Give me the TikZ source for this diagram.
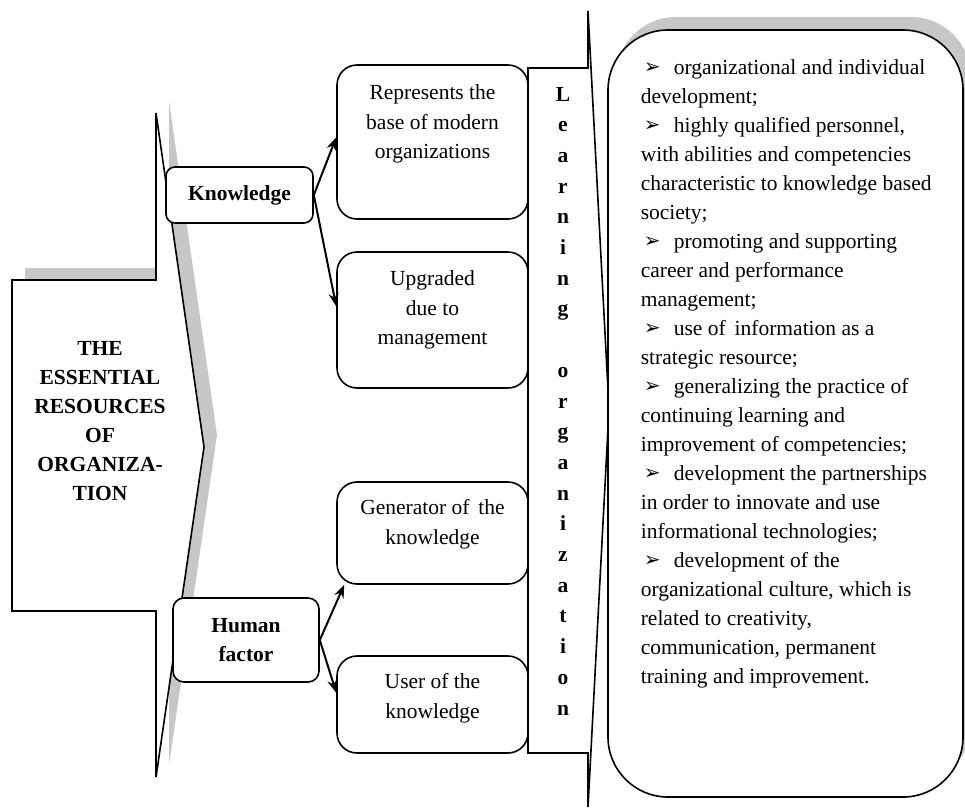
\documentclass[tikz,border=0pt]{standalone}
\usepackage{fontspec}
\setmainfont{Liberation Serif}
\newfontfamily\dvfont{DejaVu Sans}
\usetikzlibrary{arrows.meta,calc,shadows}
\newcommand{\blt}{\makebox[33pt][l]{\hspace{3pt}\raisebox{1pt}{\dvfont\fontsize{20}{20}\selectfont ➢}}}
\begin{document}
\begin{tikzpicture}[x=1pt,y=-1pt,line width=1.6pt,
  txt/.style={font=\fontsize{21.5}{29.5}\selectfont, align=center, inner sep=0pt},
  btxt/.style={font=\fontsize{21.5}{29}\selectfont\bfseries, align=center, inner sep=0pt},
  sbox/.style={draw, fill=white, rounded corners=20pt, minimum width=191pt, inner sep=0pt},
  kbox/.style={draw, fill=white, inner sep=0pt},
  arr/.style={-{Stealth[length=13pt,width=10pt]}, line width=2pt},
  shade/.style={fill=black!22}]
\useasboundingbox (0,0) rectangle (965,807);

% left big arrow shape with shadow
\fill[shade, shift={(13,-12)}] (12,280) -- (156,280) -- (156,113) -- (204,447) -- (156,777) -- (156,611) -- (12,611) -- cycle;
\draw[fill=white] (12,280) -- (156,280) -- (156,113) -- (204,447) -- (156,777) -- (156,611) -- (12,611) -- cycle;
\node[btxt] (res) at (100,421) {THE\\ESSENTIAL\\RESOURCES\\OF\\ORGANIZA-\\TION};

% knowledge / human factor
\node[kbox, btxt, draw, fill=white, minimum width=147pt, minimum height=56pt, rounded corners=9pt] (kn) at (239.5,195) {Knowledge};
\node[kbox, btxt, draw, fill=white, minimum width=146pt, minimum height=84pt, rounded corners=11pt] (hf) at (246,640) {Human\\factor};

% right small boxes
\node[sbox, minimum height=154pt] (rep) at (432.5,142) {};
\node[txt] (repT) at (432.5,124) {Represents the\\base of modern\\organizations};
\node[sbox, minimum height=136pt] (upg) at (432.5,320) {};
\node[txt] (upgT) at (432.5,310) {Upgraded\\due to\\management};
\node[sbox, minimum height=102pt] (gen) at (432.5,533) {};
\node[txt] (genT) at (432.5,524) {Generator of\, the\\knowledge};
\node[sbox, minimum height=97pt] (use) at (432.5,704.5) {};
\node[txt] (useT) at (432.5,698) {User of the\\knowledge};

% arrows
\draw[arr] (kn.east) -- ($(rep.north west)!0.47!(rep.south west)$);
\draw[arr] (kn.east) -- ($(upg.north west)!0.4!(upg.south west)$);
\draw[arr] (hf.east) -- ([xshift=8pt]gen.south west);
\draw[arr] (hf.east) -- ($(use.north west)!0.38!(use.south west)$);

% learning organization column
\draw[fill=white] (528,68) -- (588,68) -- (588,11) -- (609,409) -- (588,807) -- (588,753) -- (528,753) -- cycle;
\node[font=\fontsize{21.5}{30.7}\selectfont\bfseries, align=center, inner sep=0pt] (lo) at (563,401)
 {L\\e\\a\\r\\n\\i\\n\\g\\\mbox{}\\o\\r\\g\\a\\n\\i\\z\\a\\t\\i\\o\\n};

% right big box
\node[draw, fill=white, rounded corners=60pt, minimum width=355pt, minimum height=767pt, inner sep=0pt,
  general shadow={shadow xshift=8pt, shadow yshift=13pt, fill=black!22}] (rb) at (785.5,413.5) {};
\node[font=\fontsize{21.5}{29}\selectfont, align=left, inner sep=0pt, anchor=north west] (rbT) at (640,59)
{\blt organizational and individual\\
development;\\
\blt highly qualified personnel,\\
with abilities and competencies\\
characteristic to knowledge based\\
society;\\
\blt promoting and supporting\\
career and performance\\
management;\\
\blt use of\, information as a\\
strategic resource;\\
\blt generalizing the practice of\\
continuing learning and\\
improvement of competencies;\\
\blt development the partnerships\\
in order to innovate and use\\
informational technologies;\\
\blt development of the\\
organizational culture, which is\\
related to creativity,\\
communication, permanent\\
training and improvement.};
\end{tikzpicture}
\end{document}
